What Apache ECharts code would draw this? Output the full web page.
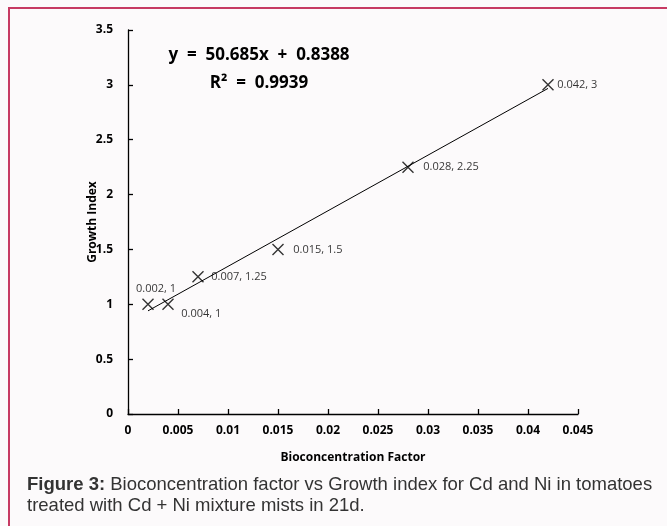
<!DOCTYPE html>
<html>
<head>
<meta charset="utf-8">
<script src="https://cdn.jsdelivr.net/npm/echarts@6/dist/echarts.min.js"></script>
<style>
html,body{margin:0;padding:0;background:#fcfafb;}
#chart{width:667px;height:526px;}
</style>
</head>
<body>
<div id="chart"></div>
<script>
// Data
const bcf = [0.002, 0.004, 0.007, 0.015, 0.028, 0.042];
const growthIndex = [1, 1, 1.25, 1.5, 2.25, 3];
const slope = 50.685;
const intercept = 0.8388;
const rSquared = '0.9939';
const xTicks = [0, 0.005, 0.01, 0.015, 0.02, 0.025, 0.03, 0.035, 0.04, 0.045];
const yTicks = [0, 0.5, 1, 1.5, 2, 2.5, 3, 3.5];

const labelPos = [
  {position: 'top', offset: [8, 1]},
  {position: 'right', offset: [2, 10]},
  {position: 'right', offset: [2, 0]},
  {position: 'right', offset: [4, 0]},
  {position: 'right', offset: [4, 0]},
  {position: 'right', offset: [-2, 0]}
];

const pts = bcf.map((x, i) => ({
  value: [x, growthIndex[i]],
  label: Object.assign({show: true, formatter: x + ', ' + growthIndex[i]}, labelPos[i])
}));

const xMinT = Math.min(...bcf), xMaxT = Math.max(...bcf);
const trend = [[xMinT, slope * xMinT + intercept], [xMaxT, slope * xMaxT + intercept]];

const chart = echarts.init(document.getElementById('chart'), null, {renderer: 'canvas'});
const axisFont = {fontFamily: 'Open Sans', fontWeight: 'bold', fontSize: 12, color: '#000'};
chart.setOption({
  backgroundColor: '#fcfafb',
  animation: false,
  grid: {left: 128, top: 30, width: 450, height: 384},
  xAxis: {
    type: 'value', min: 0, max: 0.045, interval: 0.005,
    name: 'Bioconcentration Factor', nameLocation: 'middle', nameGap: 38,
    nameMoveOverlap: false,
    nameTextStyle: axisFont,
    axisLine: {lineStyle: {color: '#000', width: 1.3}},
    axisTick: {inside: true, length: 5, lineStyle: {color: '#000', width: 1.3}},
    axisLabel: Object.assign({margin: 11, formatter: v => String(+v.toFixed(3))}, axisFont),
    splitLine: {show: false}
  },
  yAxis: {
    type: 'value', min: 0, max: 3.5, interval: 0.5,
    name: 'Growth Index', nameLocation: 'middle', nameGap: 29, nameRotate: 90,
    nameMoveOverlap: false,
    nameTextStyle: axisFont,
    axisLine: {show: true, lineStyle: {color: '#000', width: 1.3}},
    axisTick: {show: true, inside: true, length: 5, lineStyle: {color: '#000', width: 1.3}},
    axisLabel: Object.assign({margin: 15}, axisFont),
    splitLine: {show: false}
  },
  series: [
    {
      type: 'line', data: trend, symbol: 'none', silent: true,
      lineStyle: {color: '#000', width: 1}, z: 1
    },
    {
      type: 'scatter', data: pts,
      symbol: 'path://M0,0L10,10M10,0L0,10', symbolSize: 11,
      itemStyle: {color: 'rgba(0,0,0,0)', borderColor: '#000', borderWidth: 1.4},
      label: {fontFamily: 'Open Sans', fontSize: 11, color: '#000'},
      z: 2
    }
  ],
  graphic: [
    {type: 'rect', shape: {x: 9, y: 8, width: 700, height: 600},
     style: {fill: 'none', stroke: '#c73a63', lineWidth: 2}},
    {type: 'text', x: 259, y: 55, style: {text: 'y  =  50.685x  +  0.8388', fontFamily: 'Open Sans', fontWeight: 'bold', fontSize: 17, fill: '#000', textAlign: 'center', textVerticalAlign: 'middle'}},
    {type: 'text', x: 259, y: 83, style: {text: 'R²  =  ' + rSquared, fontFamily: 'Open Sans', fontWeight: 'bold', fontSize: 17, fill: '#000', textAlign: 'center', textVerticalAlign: 'middle'}},
    {type: 'text', x: 27, y: 485, style: {
      text: '{b|Figure 3:} Bioconcentration factor vs Growth index for Cd and Ni in tomatoes',
      rich: {b: {fontWeight: 'bold', fontFamily: 'Liberation Sans', fontSize: 18.5, fill: '#333'}},
      fontFamily: 'Liberation Sans', fontSize: 18.5, fill: '#333', textVerticalAlign: 'middle'}},
    {type: 'text', x: 27, y: 506, style: {
      text: 'treated with Cd + Ni mixture mists in 21d.',
      fontFamily: 'Liberation Sans', fontSize: 18.5, fill: '#333', textVerticalAlign: 'middle'}}
  ]
});
</script>
</body>
</html>
